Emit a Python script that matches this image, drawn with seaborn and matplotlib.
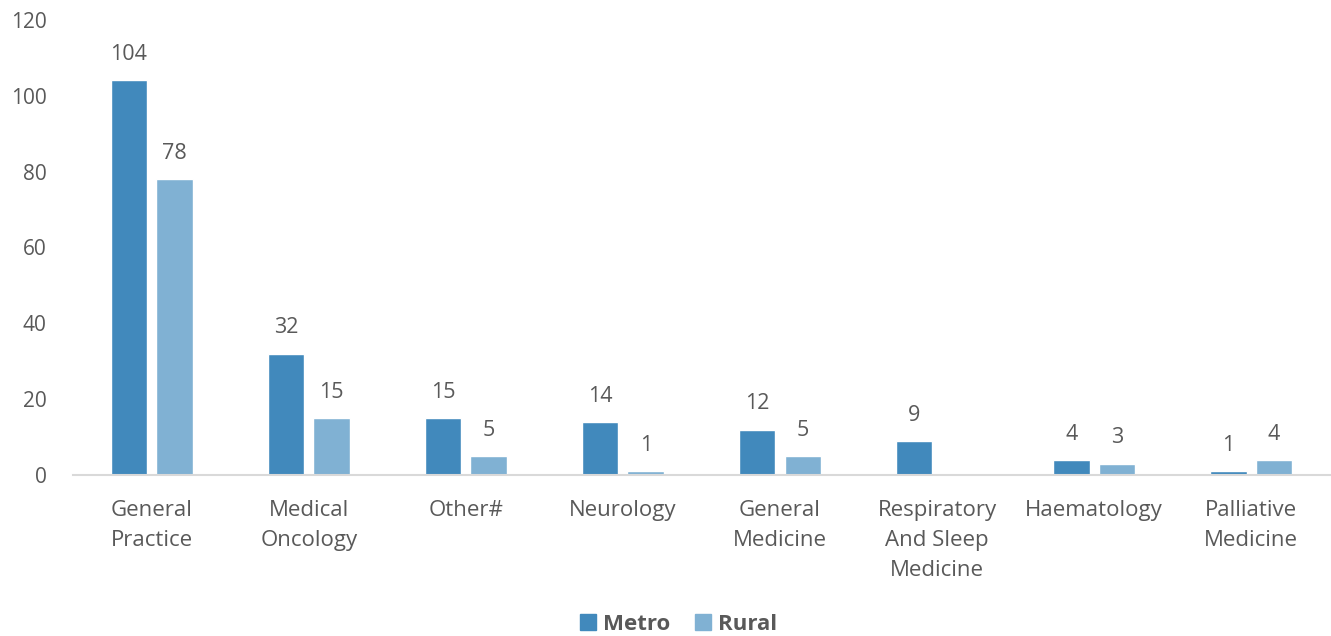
import matplotlib
matplotlib.use("Agg")
import matplotlib.pyplot as plt
import seaborn as sns
import pandas as pd
from matplotlib.patches import Patch

categories = ["General\nPractice", "Medical\nOncology", "Other#", "Neurology",
              "General\nMedicine", "Respiratory\nAnd Sleep\nMedicine", "Haematology",
              "Palliative\nMedicine"]
metro = [104, 32, 15, 14, 12, 9, 4, 1]
rural = [78, 15, 5, 1, 5, 0, 3, 4]

colors = {"Metro": "#4189BC", "Rural": "#80B1D3"}
text_color = "#595959"

df = pd.DataFrame({
    "category": categories * 2,
    "value": metro + rural,
    "group": ["Metro"] * len(categories) + ["Rural"] * len(categories),
})

sns.set_style("white")
plt.rcParams["font.family"] = ["Open Sans", "DejaVu Sans"]

fig = plt.figure(figsize=(13.31, 6.36), dpi=100)
ax = fig.add_axes([0.055, 0.253, 0.944, 0.716])

sns.barplot(data=df, x="category", y="value", hue="group", palette=colors,
            width=0.58, gap=0.2, ax=ax, legend=False, saturation=1)

# value labels, skip empty bars
for cont in ax.containers:
    labels = [f"{int(b.get_height())}" if b.get_height() > 0 else "" for b in cont]
    ax.bar_label(cont, labels=labels, padding=11, fontsize=15.5, color=text_color)

ax.set_ylim(0, 120)
ax.set_yticks(range(0, 121, 20))
ax.set_xlim(-0.5, len(categories) - 0.5)
ax.set_xlabel("")
ax.set_ylabel("")
ax.tick_params(axis="y", length=0, labelsize=15, labelcolor=text_color, pad=19)
ax.tick_params(axis="x", length=0, labelsize=16, labelcolor=text_color, pad=18)
for lab in ax.get_xticklabels():
    lab.set_linespacing(1.55)
for s in ["top", "right", "left"]:
    ax.spines[s].set_visible(False)
ax.spines["bottom"].set_color("#D9D9D9")
ax.spines["bottom"].set_linewidth(1.5)

handles = [Patch(color=colors[k], label=k) for k in ["Metro", "Rural"]]
leg = fig.legend(handles=handles, loc="center", ncol=2, frameon=False,
                 bbox_to_anchor=(0.51, 0.018), handlelength=0.7, handleheight=0.7,
                 handletextpad=0.35, columnspacing=1.1,
                 prop={"size": 16, "weight": "bold"})
for t in leg.get_texts():
    t.set_color(text_color)

fig.savefig("out.png", dpi=100)
